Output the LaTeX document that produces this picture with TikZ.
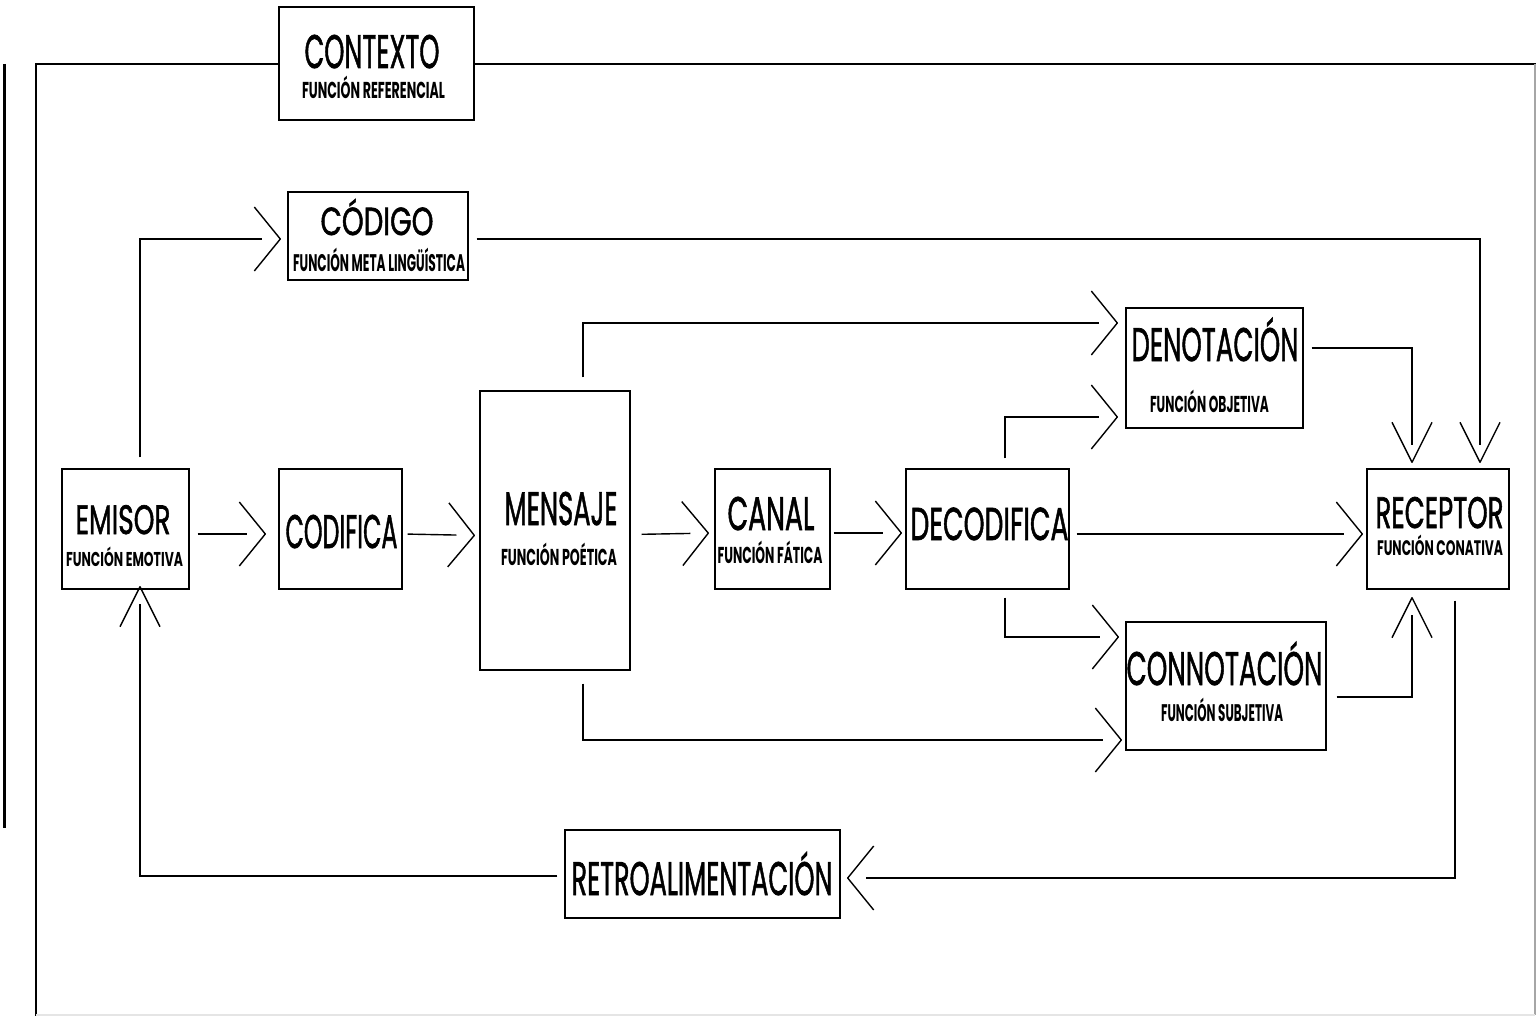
\documentclass[tikz,border=0pt]{standalone}
\usepackage{fontspec}
\usepackage{graphicx}
\setmainfont{Poppins}
\newfontfamily\titlefont{Poppins}[FakeBold=1.6]
\usetikzlibrary{arrows.meta}
\pgfdeclarearrow{
  name=ChevH,
  setup code={
    \pgfarrowssettipend{0pt}
    \pgfarrowssetbackend{-26pt}
    \pgfarrowssetlineend{-18pt}
    \pgfarrowshullpoint{0pt}{0pt}
    \pgfarrowshullpoint{-26pt}{32pt}
    \pgfarrowshullpoint{-26pt}{-32pt}
  },
  drawing code={
    \pgfsetdash{}{0pt}
    \pgfsetroundjoin
    \pgfpathmoveto{\pgfpoint{-26pt}{32pt}}
    \pgfpathlineto{\pgfpointorigin}
    \pgfpathlineto{\pgfpoint{-26pt}{-32pt}}
    \pgfusepathqstroke
  }
}
\pgfdeclarearrow{
  name=ChevV,
  setup code={
    \pgfarrowssettipend{0pt}
    \pgfarrowssetbackend{-40pt}
    \pgfarrowssetlineend{-17pt}
    \pgfarrowshullpoint{0pt}{0pt}
    \pgfarrowshullpoint{-40pt}{20pt}
    \pgfarrowshullpoint{-40pt}{-20pt}
  },
  drawing code={
    \pgfsetdash{}{0pt}
    \pgfsetroundjoin
    \pgfpathmoveto{\pgfpoint{-40pt}{20pt}}
    \pgfpathlineto{\pgfpointorigin}
    \pgfpathlineto{\pgfpoint{-40pt}{-20pt}}
    \pgfusepathqstroke
  }
}
% title text: medium weight; subtitle text: bold
\newcommand\ttxt[3]{\resizebox{#1pt}{\height}{\fontsize{#2pt}{#2pt}\selectfont\titlefont #3}}
\newcommand\fittxt[3]{\resizebox{#1pt}{\height}{\fontsize{#2pt}{#2pt}\selectfont\bfseries #3}}
\tikzset{
  box/.style={draw, line width=1.4pt, fill=white, inner sep=0pt},
  lbl/.style={inner sep=0pt, anchor=base},
  arrh/.style={draw, line width=1.4pt, -{ChevH}},
  arrv/.style={draw, line width=1.4pt, -{ChevV}},
}
\begin{document}
\begin{tikzpicture}[x=1pt,y=-1pt]
\useasboundingbox (0,0) rectangle (1537,1016);
% frame
\draw[line width=3pt] (4,64) -- (4,828);
\draw[line width=1.4pt] (36,1016) -- (36,64) -- (1536,64);
\draw[gray!70, line width=1.2pt] (1535,64) -- (1535,1015);
\draw[gray!20, line width=1.2pt] (36,1015) -- (1535,1015);
% boxes
\node[box, minimum width=195pt, minimum height=113pt] (ctx) at (376.5,63.5) {};
\node[box, minimum width=180pt, minimum height=88pt] (cod) at (378,236) {};
\node[box, minimum width=127pt, minimum height=120pt] (emi) at (125.5,529) {};
\node[box, minimum width=123pt, minimum height=120pt] (codf) at (340.5,529) {};
\node[box, minimum width=150pt, minimum height=279pt] (men) at (555,530.5) {};
\node[box, minimum width=115pt, minimum height=120pt] (can) at (772.5,529) {};
\node[box, minimum width=163pt, minimum height=120pt] (dec) at (987.5,529) {};
\node[box, minimum width=177pt, minimum height=120pt] (den) at (1214.5,368) {};
\node[box, minimum width=200pt, minimum height=128pt] (con) at (1226,686) {};
\node[box, minimum width=142pt, minimum height=120pt] (rec) at (1438,529) {};
\node[box, minimum width=275pt, minimum height=88pt] (ret) at (702.5,874) {};
% labels
\node[lbl] (ctxA) at (372,68) {\ttxt{135}{47}{CONTEXTO}};
\node[lbl] (ctxB) at (373.5,99) {\fittxt{143}{23}{FUNCIÓN REFERENCIAL}};
\node[lbl] (codA) at (377,235) {\ttxt{113}{39}{CÓDIGO}};
\node[lbl] (codB) at (379,272) {\fittxt{172}{24}{FUNCIÓN META LINGÜÍSTICA}};
\node[lbl] (emiA) at (123,534) {\ttxt{95}{41}{EMISOR}};
\node[lbl] (emiB) at (124.5,566) {\fittxt{117}{20}{FUNCIÓN EMOTIVA}};
\node[lbl] (codfA) at (341.5,548) {\ttxt{112}{47}{CODIFICA}};
\node[lbl] (menA) at (561,525) {\ttxt{113}{47}{MENSAJE}};
\node[lbl] (menB) at (559,565) {\fittxt{116}{23}{FUNCIÓN POÉTICA}};
\node[lbl] (canA) at (771,530) {\ttxt{87}{47}{CANAL}};
\node[lbl] (canB) at (770,563) {\fittxt{105}{23}{FUNCIÓN FÁTICA}};
\node[lbl] (decA) at (989.5,540) {\ttxt{158}{46}{DECODIFICA}};
\node[lbl] (denA) at (1215,361) {\ttxt{167}{47}{DENOTACIÓN}};
\node[lbl] (denB) at (1209.5,412) {\fittxt{119}{23}{FUNCIÓN OBJETIVA}};
\node[lbl] (recA) at (1439.5,528) {\ttxt{128}{44}{RECEPTOR}};
\node[lbl] (recB) at (1440,555) {\fittxt{126}{21}{FUNCIÓN CONATIVA}};
\node[lbl] (conA) at (1224.5,685) {\ttxt{196}{47}{CONNOTACIÓN}};
\node[lbl] (conB) at (1222,721) {\fittxt{122}{24}{FUNCIÓN SUBJETIVA}};
\node[lbl] (retA) at (702,895) {\ttxt{261}{47}{RETROALIMENTACIÓN}};
% main chain
\draw[arrh, shorten <=8pt, shorten >=13pt] ([yshift=-5pt]emi.east) -- ([yshift=-5pt]codf.west);
\draw[arrh, shorten <=5pt, shorten >=5pt] ([yshift=-5pt]codf.east) -- ([yshift=-5pt]men.west);
\draw[arrh, shorten <=11pt, shorten >=6pt] ([yshift=-4pt]men.east) -- ([yshift=-4pt]can.west);
\draw[arrh, shorten <=3pt, shorten >=4pt] ([yshift=-4pt]can.east) -- ([yshift=-4pt]dec.west);
\draw[arrh, shorten <=7pt, shorten >=4pt] ([yshift=-5pt]dec.east) -- ([yshift=-5pt]rec.west);
% branches
\draw[arrh, shorten >=7pt] ([xshift=14.5pt,yshift=11pt]emi.north) |- ([yshift=-3pt]cod.west);
\draw[arrv, shorten >=6pt] ([xshift=8pt,yshift=-3pt]cod.east) -| ([xshift=42pt]rec.north);
\draw[arrh, shorten >=8pt] ([xshift=28pt,yshift=13pt]men.north) |- ([yshift=45pt]den.west);
\draw[arrh, shorten >=8pt] ([xshift=17.5pt,yshift=10pt]dec.north) |- ([yshift=-49pt]den.west);
\draw[arrh, shorten >=7pt] ([xshift=17.5pt,yshift=-8pt]dec.south) |- ([yshift=49pt]con.west);
\draw[arrh, shorten >=4pt] ([xshift=28pt,yshift=-13pt]men.south) |- ([yshift=-54pt]con.west);
\draw[arrv, shorten >=6pt] ([xshift=8pt,yshift=20pt]den.east) -| ([xshift=-26pt]rec.north);
\draw[arrv, shorten >=8pt] ([xshift=10pt,yshift=-11pt]con.east) -| ([xshift=-26pt]rec.south);
% feedback
\draw[arrh, shorten >=7pt] ([xshift=17pt,yshift=-11pt]rec.south) |- ([yshift=-4pt]ret.east);
\draw[arrv, shorten >=-3pt] ([xshift=-7pt,yshift=-2pt]ret.west) -| ([xshift=14.5pt]emi.south);
\end{tikzpicture}
\end{document}
